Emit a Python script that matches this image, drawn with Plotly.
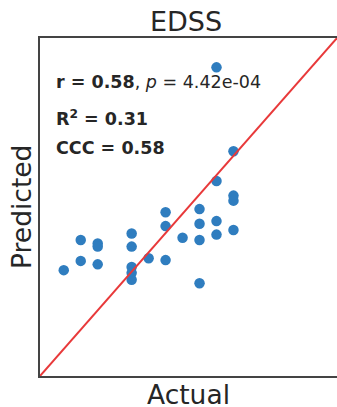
import plotly.graph_objects as go

# Data
actual = [1.0,
          1.5, 1.5,
          2.0, 2.0, 2.0,
          3.0, 3.0, 3.0, 3.0, 3.0,
          3.5,
          4.0, 4.0, 4.0,
          4.5,
          5.0, 5.0, 5.0, 5.0,
          5.5, 5.5, 5.5, 5.5,
          6.0, 6.0, 6.0, 6.0]
predicted = [3.04,
             3.82, 3.28,
             3.73, 3.65, 3.19,
             3.99, 3.65, 3.12, 2.97, 2.79,
             3.35,
             4.54, 4.18, 3.30,
             3.88,
             4.62, 4.24, 3.82, 2.70,
             8.29, 5.35, 4.31, 3.96,
             6.12, 4.97, 4.84, 4.08]

title_text = "EDSS"
x_label = "Actual"
y_label = "Predicted"
stat_r = "0.58"
stat_p = "4.42e-04"
stat_r2 = "0.31"
stat_ccc = "0.58"

lo, hi = 0.3, 9.05

FONT = "DejaVu Sans"
TXT = "#262626"

fig = go.Figure()
fig.add_trace(go.Scatter(
    x=actual, y=predicted, mode="markers",
    marker=dict(size=10.5, color="#2f7dbf", line=dict(width=0)),
    showlegend=False, hoverinfo="skip"))
fig.add_trace(go.Scatter(
    x=[lo, hi], y=[lo, hi], mode="lines",
    line=dict(color="#e8393a", width=2),
    showlegend=False, hoverinfo="skip"))

axis_common = dict(showticklabels=False, ticks="", showgrid=False,
                   zeroline=False, showline=True,
                   linecolor="#444444", linewidth=1.5, range=[lo, hi])

fig.update_layout(
    width=337, height=407,
    margin=dict(l=40, r=0, t=38, b=31),
    paper_bgcolor="white", plot_bgcolor="white",
    font=dict(family=FONT, color=TXT),
    xaxis=dict(axis_common, mirror=True),
    yaxis=dict(axis_common, mirror=False),
)

ann = []
ann.append(dict(text=title_text, xref="paper", yref="paper", x=0.49, y=1 + 17 / 338,
                xanchor="center", yanchor="middle", showarrow=False,
                font=dict(size=27, family=FONT, color=TXT)))
ann.append(dict(text=x_label, xref="paper", yref="paper", x=0.5, y=0,
                xanchor="center", yanchor="top", yshift=-1, showarrow=False,
                font=dict(size=26.5, family=FONT, color=TXT)))
ann.append(dict(text=y_label, xref="paper", yref="paper", x=-19 / 297, y=0.5,
                xanchor="center", yanchor="middle", showarrow=False, textangle=-90,
                font=dict(size=26.5, family=FONT, color=TXT)))
stats = [
    (f"<b>r = {stat_r}</b>, <i>p</i> = {stat_p}", 82),
    (f"<b>R<sup>2</sup> = {stat_r2}</b>", 118),
    (f"<b>CCC = {stat_ccc}</b>", 148),
]
for txt, py in stats:
    ann.append(dict(text=txt, xref="paper", yref="paper", x=14 / 297,
                    y=(376 - py) / 338, xanchor="left", yanchor="middle",
                    showarrow=False, font=dict(size=17.5, family=FONT, color=TXT)))
fig.update_layout(annotations=ann)

fig.write_html("out.html",
               config={"displayModeBar": False},
               post_script="document.body.style.margin='0';"
                           "document.body.style.overflow='hidden';")
